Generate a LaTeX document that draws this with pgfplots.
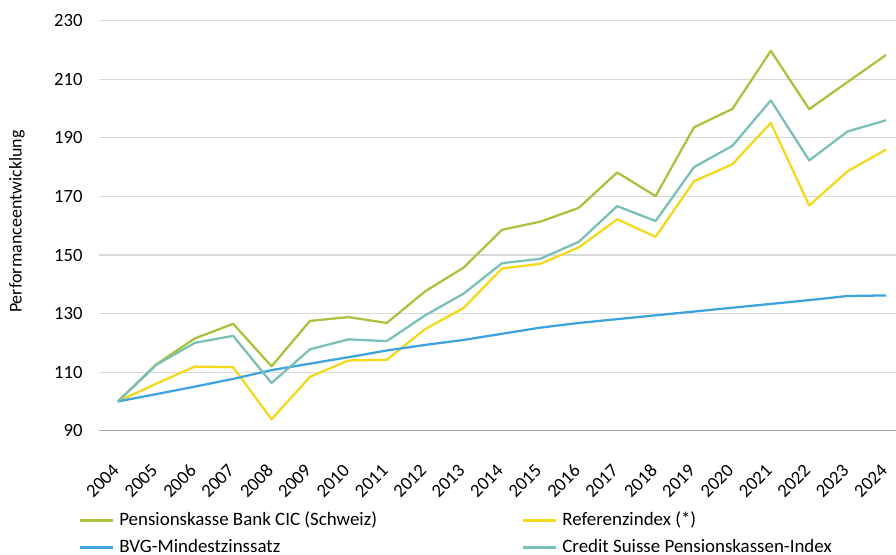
\documentclass[border=0pt]{standalone}
\usepackage{fontspec}
\setmainfont{Carlito}
\usepackage{pgfplots}
\pgfplotsset{compat=1.18}
\definecolor{cgreen}{HTML}{A9C43C}
\definecolor{cyellow}{HTML}{F4D81A}
\definecolor{cteal}{HTML}{7ABFB8}
\definecolor{cblue}{HTML}{3DA3E1}
\begin{document}
\begin{tikzpicture}
\useasboundingbox (0,0) rectangle (672pt,416.25pt);
\begin{axis}[
  at={(74.5pt,93.2pt)}, anchor=south west,
  scale only axis, width=597.5pt, height=307.5pt,
  xmin=-0.485, xmax=20.26, ymin=90, ymax=230,
  ytick={90,110,...,230},
  xtick={0,...,20},
  xticklabels={2004,2005,2006,2007,2008,2009,2010,2011,2012,2013,2014,2015,2016,2017,2018,2019,2020,2021,2022,2023,2024},
  clip=false,
  axis x line*=bottom,
  axis y line*=left,
  y axis line style={draw=none},
  x axis line style={draw=black!35, line width=1pt, -},
  major tick length=0pt,
  ymajorgrids,
  grid style={draw=black!15, line width=0.9pt},
  /pgf/number format/assume math mode=true,
  ticklabel style={font=\fontsize{14}{16}\selectfont},
  yticklabel style={xshift=-9pt},
  xticklabel style={xshift=-4.8pt, yshift=-24pt, rotate=45, anchor=north east, inner sep=0pt},
  ylabel={Performanceentwicklung},
  ylabel style={at={(axis description cs:-0.1033,0.51)}, anchor=center, font=\fontsize{13.5}{16}\selectfont},
  legend columns=2,
  legend image code/.code={\draw[#1] (0pt,0pt) -- (24.75pt,0pt);},
  legend style={at={(axis description cs:-0.0255,-0.198)}, anchor=north west, draw=none, fill=none,
    inner sep=0pt, outer sep=0pt,
    font=\fontsize{14.2}{16}\selectfont,
    nodes={inner sep=0pt, text height=10pt, text depth=3pt, anchor=west},
    row sep=7.25pt,
    /tikz/every odd column/.append style={column sep=3.75pt},
    /tikz/every even column/.append style={column sep=108.75pt}},
  every axis plot/.append style={line width=1.7pt, line join=round},
]
\addplot[cgreen] coordinates {(0,100) (1,112.7) (2,121.5) (3,126.5) (4,112) (5,127.5) (6,128.8) (7,126.8) (8,137.6) (9,145.7) (10,158.6) (11,161.4) (12,166.1) (13,178.2) (14,170.1) (15,193.6) (16,199.9) (17,219.7) (18,199.8) (19,209.1) (20,218.3)};
\addlegendentry{Pensionskasse Bank CIC (Schweiz)}
\addplot[cyellow] coordinates {(0,100) (1,106.1) (2,111.9) (3,111.7) (4,93.9) (5,108.4) (6,114) (7,114.2) (8,124.7) (9,131.9) (10,145.4) (11,147) (12,152.6) (13,162.2) (14,156.2) (15,175.2) (16,181) (17,195.1) (18,166.9) (19,178.6) (20,186)};
\addlegendentry{Referenzindex (*)}
\addplot[cblue] coordinates {(0,100) (1,102.5) (2,105.06) (3,107.7) (4,110.7) (5,112.9) (6,115.1) (7,117.4) (8,119.3) (9,121) (10,123.1) (11,125.2) (12,126.8) (13,128.1) (14,129.4) (15,130.7) (16,132) (17,133.3) (18,134.6) (19,136) (20,136.2)};
\addlegendentry{BVG-Mindestzinssatz}
\addplot[cteal] coordinates {(0,100) (1,112.5) (2,120) (3,122.4) (4,106.3) (5,117.8) (6,121.2) (7,120.6) (8,129.4) (9,136.8) (10,147.2) (11,148.7) (12,154.5) (13,166.7) (14,161.6) (15,180) (16,187.3) (17,202.8) (18,182.3) (19,192.2) (20,196)};
\addlegendentry{Credit Suisse Pensionskassen-Index}
\end{axis}
\end{tikzpicture}
\end{document}
